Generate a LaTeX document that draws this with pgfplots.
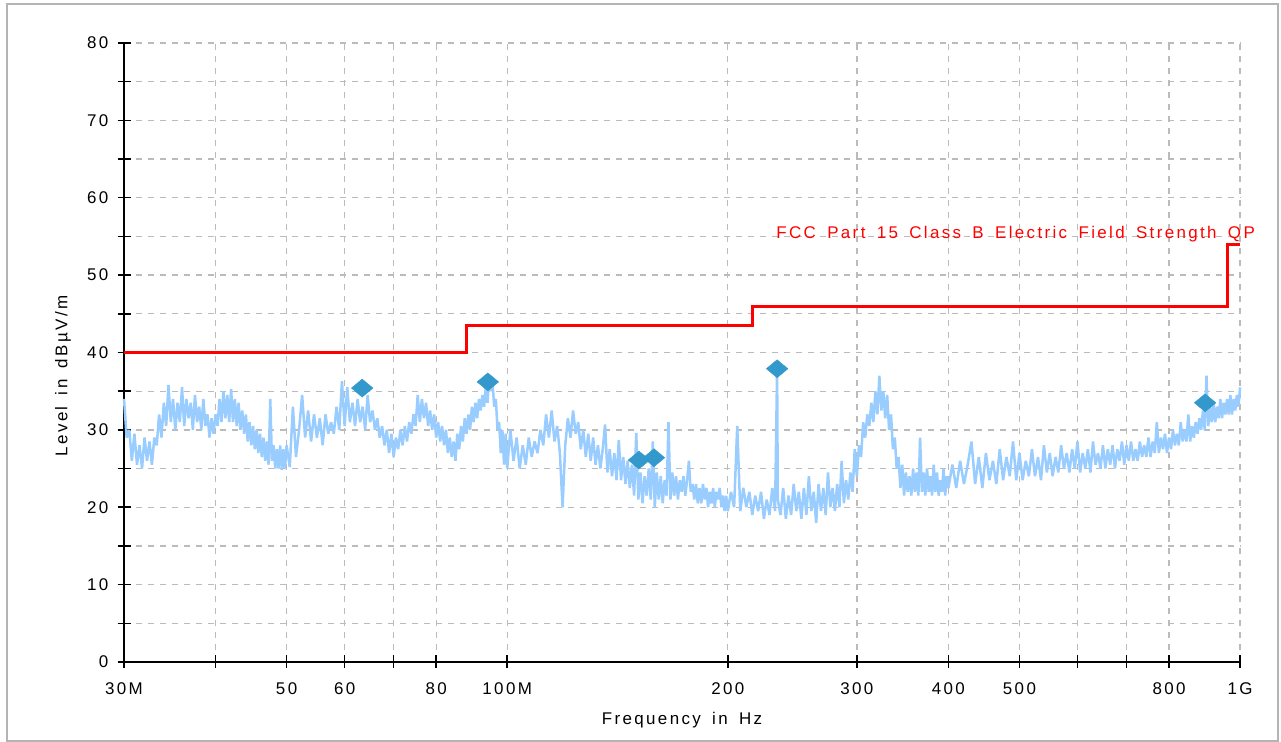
\documentclass[border=0pt]{standalone}
\usepackage{fontspec}
\setmainfont{Liberation Sans}
\newfontfamily\lab[LetterSpace=14, WordSpace=1.6]{Liberation Sans}
\newfontfamily\labred[LetterSpace=14, WordSpace=1.6]{Liberation Sans}
\usepackage{pgfplots}
\pgfplotsset{compat=1.18}
\definecolor{trace}{HTML}{99CCFF}
\definecolor{mk}{HTML}{3399CC}
\definecolor{lim}{HTML}{FF0000}
\definecolor{gridc}{HTML}{BBBBBB}
\definecolor{framec}{HTML}{B4B4B4}
\newcommand{\labfont}{\fontsize{17}{20}\selectfont\lab}
\newcommand{\redfont}{\fontsize{17}{20}\selectfont\labred}
\begin{document}
\begin{tikzpicture}[x=1bp,y=1bp]
\useasboundingbox (0,0) rectangle (1281,742);
\draw[framec, line width=2.2bp] (7,1) rectangle (1278,738);
\begin{axis}[
  at={(124bp,80bp)}, anchor=south west,
  scale only axis, width=1116bp, height=619bp,
  xmode=log, xmin=30, xmax=1000, ymin=0, ymax=80,
  axis lines=left, axis line style={-, black, line width=1.8bp},
  clip=false,
  xtick={30,40,50,60,70,80,100,200,300,400,500,600,700,800,1000},
  xticklabels={30M,,50,60,,80,100M,200,300,400,500,,,800,1G},
  xminorticks=false,
  ytick={0,10,...,80}, minor ytick={5,15,...,75},
  grid=both,
  grid style={gridc, dash pattern=on 6bp off 6bp, line width=1.3bp},
  minor grid style={gridc, dash pattern=on 6bp off 6bp, line width=1.3bp},
  tick align=center, major tick length=13bp, minor tick length=13bp,
  every tick/.style={black, line width=1.5bp},
  /pgf/number format/assume math mode=true,
  tick label style={font=\labfont},
  yticklabel style={anchor=east, inner sep=0pt, xshift=-9bp},
  xticklabel style={anchor=north, inner sep=0pt, yshift=-14bp},
  xlabel={Frequency in Hz}, ylabel={Level in dBµV/m},
  label style={font=\labfont},
  xlabel style={at={(axis description cs:0.5,-0.0937)}, anchor=center},
  ylabel style={at={(axis description cs:-0.0547,0.462)}, anchor=center},
]
\addplot[trace, line width=2.5bp, line join=bevel] coordinates {
(30.00,34)(30.25,29)(30.50,30)(30.75,26)(31.00,29.5)(31.25,25.5)(31.50,28)(31.75,25)(32.00,29)(32.25,26)
(32.50,28.5)(32.75,25.5)(33.00,29)(33.25,28)(33.50,32)(33.75,29)(34.00,33.5)(34.25,30.5)(34.50,35.8)(34.75,31)
(35.00,34)(35.25,30)(35.50,33.5)(35.75,31)(36.00,35.5)(36.25,30.5)(36.50,34)(36.75,31.5)(37.00,33.5)(37.25,30)
(37.50,34.5)(37.75,31)(38.00,33)(38.25,30)(38.50,34)(38.75,30.5)(39.00,32)(39.25,29)(39.50,31.5)(39.75,29.5)
(40.00,32)(40.25,30.5)(40.50,34)(40.75,31)(41.00,35)(41.25,31.5)(41.50,34.5)(41.75,31)(42.00,35.3)(42.25,31)
(42.50,34)(42.75,30.5)(43.00,33.5)(43.25,30)(43.50,32.5)(43.75,29.5)(44.00,32)(44.25,28.5)(44.50,31)(44.75,28)
(45.00,30.5)(45.25,27.5)(45.50,30)(45.75,27)(46.00,29.5)(46.25,26.5)(46.50,29)(46.75,26)(47.00,28.5)(47.25,25.5)
(47.50,34)(47.75,26)(48.00,28)(48.25,25)(48.50,27.5)(48.75,25)(49.00,28)(49.25,24.8)(49.50,27.5)(49.75,25)
(50.00,28)
(50.5,25.2)(51.0,33)(51.5,26.5)(52.0,30)(52.5,34.5)(53.0,29)(53.5,32.5)(54.0,28.5)(54.5,32)(55.0,29)
(55.5,31.5)(56.0,28)(56.5,32)(57.0,29.5)(57.5,31)(58.0,29.5)(58.5,33)(59.0,30)(59.5,36.3)(60.0,30.5)
(60.5,35.5)(61.0,31)(61.5,33.5)(62.0,30.5)(62.5,34)(63.0,31)(63.5,33)(64.0,30)(64.5,34.5)(65.0,31)
(65.5,32.5)(66.0,30)(66.5,31.5)(67.0,29)(67.5,30.5)(68.0,28)(68.5,30)(69.0,27)(69.5,29.5)(70.0,26.5)
(70.5,29)(71.0,27.5)(71.5,30)(72.0,28)(72.5,30.5)(73.0,28.5)(73.5,31)(74.0,29.5)(74.5,32)(75.0,30.5)
(75.5,34.5)(76.0,31)(76.5,34)(77.0,31.5)(77.5,33.5)(78.0,30.5)(78.5,32.5)(79.0,30)(79.5,32)(80.0,29)
(80.5,31)(81.0,28.5)(81.5,30.5)(82.0,28)(82.5,30)(83.0,27)(83.5,29)(84.0,26.5)(84.5,28.5)(85.0,26)
(85.5,29.5)(86.0,27.5)(86.5,30.5)(87.0,28.5)(87.5,31.5)(88.0,29.5)(88.5,32)(89.0,30)(89.5,33)(90.0,31)
(90.5,33.5)(91.0,31.5)(91.5,34)(92.0,32.5)(92.5,34.5)(93.0,33)(93.5,35.5)(94.0,33.5)(94.5,36.8)(95.0,35)
(95.5,36)(96.0,33)(96.5,34)(97.0,30)(97.5,31)(98.0,27)(98.5,30)(99.0,25.5)(99.5,29.5)(100.0,25)
(101,30)(102,26)(103,29)(104,25)(105,28)(106,25.5)(107,29)(108,26.5)(109,28.5)(110,27)
(111,30)(112,28)(113,32)(114,29)(115,32.5)(116,28.5)(117,30.5)(118,27)(119,20)(120,28)
(121,31.5)(122,29)(123,32.5)(124,29.5)(125,31)(126,27.5)(127,30)(128,26.5)(129,29.5)(130,26)
(131,29)(132,25.5)(133,28)(134,25)(135,27.5)(136,30.7)(137,24.5)(138,27.5)(139,24)(140,27)
(141,23.5)(142,28.7)(143,23.5)(144,26.5)(145,23)(146,26)(147,22.5)(148,25.5)(149,21.5)(150,29.6)
(151,21)(152,24.5)(153,20.5)(154,24)(155,21.5)(156,25)(157,21)(158,28.5)(159,20)(160,24.5)
(161,21)(162,24)(163,20.5)(164,23.5)(165,21.5)(166,31)(167,21)(168,24.5)(169,21.5)(170,24)
(171,21)(172,23.5)(173,22)(174,24)(175,21.5)(176,23.5)(177,26)(178,22)(179,23)(180,21)
(181,23)(182,20.5)(183,22.5)(184,20.5)(185,23)(186,21)(187,22.5)(188,20)(189,22)(190,20.5)
(191,22.5)(192,20)(193,22)(194,21)(195,22.5)(196,20)(197,21.5)(198,19.5)(199,21.5)(200,19.5)
(202,22)(204,20)(206,30.5)(208,19.5)(210,22.5)(212,20)(214,22)(216,19)(218,21.5)(220,19.5)
(222,22)(224,18.5)(226,21)(228,19)(230,22.5)(232,19.5)(233.5,37.9)(234,21)(236,19)(238,22.5)(240,18.5)
(242,21.5)(244,19)(246,23)(248,19.5)(250,22)(252,18.5)(254,22.5)(256,19)(258,24)(260,19.5)
(262,22)(264,18)(266,23)(268,19.5)(270,22.5)(272,19)(274,24.5)(276,20)(278,22.5)(280,19.5)
(282,23)(284,20)(286,26)(288,20.5)(290,23.5)(292,21)(294,24.5)(296,22)(298,27.5)(300,24)
(302,28)(304,26.5)(306,31)(308,29)(310,32)(312,30.5)(314,33.5)(316,31)(318,35)(320,32)
(322,37)(324,32.5)(326,35)(328,31.5)(330,34.5)(332,30)(334,32)(336,27.5)(338,29)(340,25)
(342,26.5)(344,22.5)(346,25.5)(348,21.5)(350,24.5)(352,22)(354,24)(356,21.5)(358,25)(360,22)
(362,24.5)(364,21.5)(366,29)(368,22)(370,24.5)(372,21.5)(374,25)(376,22)(378,24)(380,21.5)
(382,25.5)(384,22)(386,24.5)(388,21.5)(390,23.5)(392,22)(394,25)(396,21.5)(398,24)(400,22.5)
(405,25.5)(410,22.5)(415,26)(420,23)(425,25.5)(430,28.5)(435,23)(440,26.5)(445,22.5)(450,27)
(455,23.5)(460,26)(465,23)(470,27.5)(475,23.5)(480,26.5)(485,24)(490,28.5)(495,23.5)(500,27)
(505,23.5)(510,26)(515,24)(520,27.5)(525,24)(530,26.5)(535,23.5)(540,28)(545,24.5)(550,27)
(555,24)(560,26.5)(565,24.5)(570,28)(575,25)(580,27)(585,24.5)(590,27.5)(595,25)(600,28.5)
(605,24.5)(610,27)(615,25)(620,27.5)(625,24.5)(630,28.5)(635,25.5)(640,27)(645,25)(650,28)
(655,25)(660,27.5)(665,25.5)(670,28)(675,25)(680,27.5)(685,26)(690,28.5)(695,25.5)(700,28)
(705,26)(710,28.5)(715,26)(720,27.5)(725,26)(730,28.5)(735,26.5)(740,28)(745,26.5)(750,29)
(755,26.5)(760,28.5)(765,27)(770,31)(775,27)(780,29)(785,27.5)(790,29.5)(795,27)(800,29)
(805,27.5)(810,30)(815,28)(820,29.5)(825,28)(830,31)(835,28.5)(840,30)(845,28.5)(850,32)
(855,28.5)(860,30.5)(865,29)(870,31)(875,29.5)(880,31.5)(885,30)(890,32.5)(895,30)(900,37)
(905,30.5)(910,33)(915,31)(920,33.5)(925,31)(930,33)(935,31.5)(940,34)(945,31.5)(950,33.5)
(955,32)(960,34)(965,32)(970,34.5)(975,32)(980,34)(985,32.5)(990,34.5)(995,33)(1000,35.5)
};
\addplot[lim, line width=3bp] coordinates {
(30,40)(88,40)(88,43.5)(216,43.5)(216,46)(960,46)(960,54)(1000,54)
};
\addplot[only marks, mark=diamond*, mark size=9bp, mark options={fill=mk, draw=mk, xscale=1.6}] coordinates {
(63.4,35.4)(94.1,36.2)(151.3,26.1)(158.6,26.4)(233.5,37.9)(896,33.5)
};
\node[anchor=base east, lim, font=\redfont, inner sep=0pt] at (axis cs:1000,54) [xshift=15bp, yshift=6bp] {FCC Part 15 Class B Electric Field Strength QP};
\end{axis}
\end{tikzpicture}
\end{document}
